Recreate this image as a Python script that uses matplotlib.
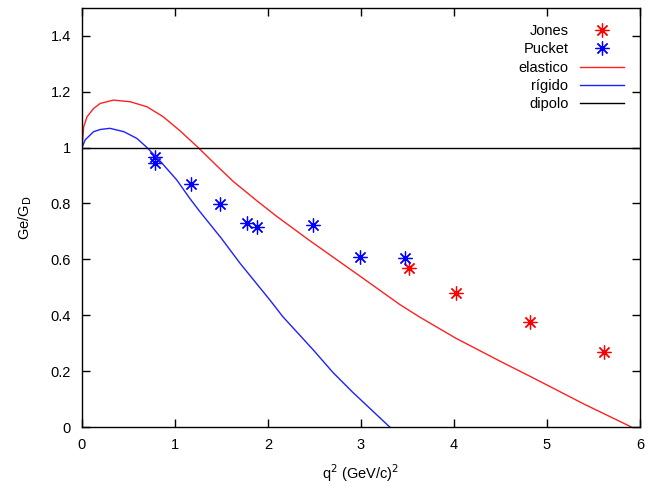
import matplotlib
matplotlib.use('Agg')
import matplotlib.pyplot as plt
from matplotlib.ticker import FuncFormatter

# datos experimentales
jones_q2 = [3.52, 4.02, 4.82, 5.61]
jones_g = [0.568, 0.480, 0.377, 0.269]
pucket_q2 = [0.785, 0.785, 1.17, 1.48, 1.77, 1.88, 2.48, 2.99, 3.47]
pucket_g = [0.966, 0.945, 0.869, 0.798, 0.729, 0.717, 0.723, 0.609, 0.606]

# modelos
elastico_q2 = [0.0, 0.018, 0.054, 0.125, 0.196, 0.34, 0.52, 0.70, 0.875, 1.055, 1.25,
               1.45, 1.63, 1.88, 2.09, 2.45, 2.99, 3.42, 3.63, 4.02, 4.5, 4.84, 5.4, 5.91]
elastico_g = [1.0, 1.074, 1.110, 1.140, 1.158, 1.17, 1.164, 1.146, 1.11, 1.06, 1.0,
              0.935, 0.878, 0.81, 0.755, 0.667, 0.54, 0.438, 0.394, 0.318, 0.235, 0.178,
              0.082, 0.0]
rigido_q2 = [0.0, 0.035, 0.125, 0.2, 0.3, 0.45, 0.59, 0.7, 0.84, 1.02, 1.16, 1.27, 1.5,
             1.7, 2.02, 2.16, 2.49, 2.7, 2.91, 3.31]
rigido_g = [1.0, 1.028, 1.057, 1.065, 1.069, 1.057, 1.033, 1.0, 0.952, 0.884, 0.818, 0.77,
            0.675, 0.586, 0.455, 0.395, 0.275, 0.195, 0.125, 0.0]
dipolo_q2 = [0.0, 6.0]
dipolo_g = [1.0, 1.0]

plt.rcParams['font.family'] = ['Liberation Sans', 'DejaVu Sans']
plt.rcParams['font.size'] = 10.5

fig = plt.figure(figsize=(6.48, 4.92), dpi=100)
ax = fig.add_axes([0.1265, 0.132, 0.861, 0.852])

asterisk = (8, 2, 0)
ax.plot(jones_q2, jones_g, linestyle='none', marker=asterisk, markersize=10,
        mew=0.9, color='red', label='Jones')
ax.plot(pucket_q2, pucket_g, linestyle='none', marker=asterisk, markersize=10,
        mew=0.9, color='blue', label='Pucket')
ax.plot(elastico_q2, elastico_g, color='#ff2020', lw=1.0, label='elastico')
ax.plot(rigido_q2, rigido_g, color='#2020ff', lw=1.0, label='rígido')
ax.plot(dipolo_q2, dipolo_g, color='black', lw=1.0, label='dipolo')

ax.set_xlim(0, 6)
ax.set_ylim(0, 1.5)
ax.set_xticks(range(7))
ax.set_yticks([0, 0.2, 0.4, 0.6, 0.8, 1.0, 1.2, 1.4])
fmt = FuncFormatter(lambda v, p: '%g' % v)
ax.xaxis.set_major_formatter(fmt)
ax.yaxis.set_major_formatter(fmt)
ax.tick_params(direction='in', length=6, width=1, top=True, right=True, pad=8)
for s in ax.spines.values():
    s.set_linewidth(1.0)

ax.set_xlabel('q$^2$ (GeV/c)$^2$', labelpad=7)
ax.set_ylabel('Ge/G$_\\mathrm{D}$', labelpad=12)

ax.legend(loc='upper right', frameon=False, markerfirst=False, handlelength=3.0,
          handletextpad=0.8, labelspacing=0.3, borderaxespad=0.7)

fig.savefig('out.png', dpi=100)
